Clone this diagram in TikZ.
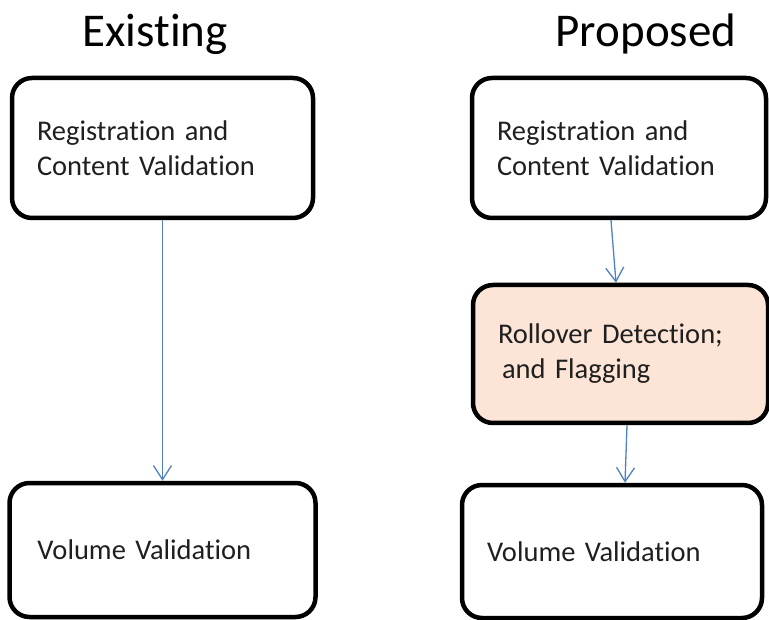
\documentclass[tikz,border=0pt]{standalone}
\usepackage{fontspec}
\setmainfont{Carlito}[RawFeature={-liga;-clig;-calt;-dlig;-rlig}]
\usetikzlibrary{arrows.meta,calc}
\definecolor{peach}{HTML}{FCE5D6}
\definecolor{arrowblue}{HTML}{4F81BD}
\tikzset{
  box/.style={draw=black, line width=4.5pt, rounded corners=20pt, align=left,
    inner xsep=25pt, inner ysep=0pt, font=\fontsize{28.5}{35}\selectfont, text=black!88},
  title/.style={font=\fontsize{47}{56}\selectfont, text=black},
  flow/.style={draw=arrowblue, line width=1.3pt, -{Straight Barb[length=14pt,width=18pt,line width=1.3pt]}}
}
\begin{document}
\begin{tikzpicture}[x=1pt,y=1pt]
\useasboundingbox (0,0) rectangle (769,-620);
\node[title] (t1) at (155,-34) {Existing};
\node[title] (t2) at (646,-34) {Proposed};
\node[box, text width=251pt, minimum height=140pt] (L1) at (162.5,-148) {Registration and\\Content Validation};
\node[box, text width=250pt, minimum height=134pt, inner xsep=28pt] (L2) at (162.5,-550) {Volume Validation};
\node[box, text width=244pt, minimum height=140pt] (R1) at (619,-148) {Registration and\\Content Validation};
\node[box, fill=peach, text width=245pt, minimum height=138pt] (R2) at (620.5,-354) {Rollover Detection;\\\hspace*{4pt}and Flagging};
\node[box, text width=250pt, minimum height=133pt] (R3) at (612,-551.5) {Volume Validation};
\draw[flow] (L1.south) -- (L2.north);
\draw[flow] ([xshift=-8pt]R1.south) -- ([xshift=-4.5pt]R2.north);
\draw[flow] ([xshift=6.5pt]R2.south) -- ([xshift=13pt]R3.north);
\end{tikzpicture}
\end{document}
